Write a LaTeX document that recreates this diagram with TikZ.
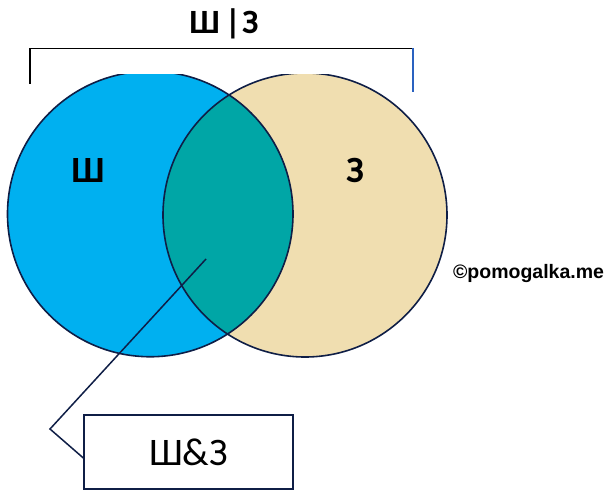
\documentclass[tikz,border=0pt]{standalone}
\usepackage{fontspec}
\setmainfont{Carlito}
\newfontfamily\wmfont{Liberation Sans}
\definecolor{cblue}{HTML}{00B0F0}
\definecolor{ctan}{HTML}{F0DEB0}
\definecolor{cteal}{HTML}{00A6A6}
\definecolor{cline}{HTML}{0F1E46}
\definecolor{cbr}{HTML}{2A62C0}
\begin{document}
\begin{tikzpicture}[x=1pt,y=-1pt,
  outline/.style={draw=cline,line width=1.6pt},
  setlabel/.style={font=\fontsize{37}{37}\selectfont\bfseries,anchor=base},
  boxnode/.style={draw=cline,line width=1.3pt,minimum width=209pt,minimum height=74pt,inner sep=0pt,font=\fontsize{39}{39}\selectfont},
  conn/.style={draw=cline,line width=1.5pt}]
\useasboundingbox (0,0) rectangle (611,497);
\coordinate (L) at (150.25,214);
\coordinate (R) at (305,215);
\begin{scope}
  \clip (0,74.3) rectangle (611,497);
  \fill[cblue] (L) circle (142.75pt);
  \fill[ctan] (R) circle (142pt);
  \begin{scope}
    \clip (L) circle (142.75pt);
    \fill[cteal] (R) circle (142pt);
  \end{scope}
  \draw[outline] (L) circle (142.75pt);
  \draw[outline] (R) circle (142pt);
\end{scope}
% bracket
\coordinate (b1) at (30,84);
\coordinate (b2) at (30,48.5);
\coordinate (b3) at (413,48.5);
\coordinate (b4) at (413,92);
\draw[line width=1.2pt,black] (b1) -- (b2) -- (b3);
\draw[line width=1.2pt,cbr] (b3) -- (b4);
\node[anchor=base,font=\fontsize{34}{34}\selectfont\bfseries] (title) at (224,34) {Ш\kern5pt|\kern1pt З};
\node[setlabel] (sh) at (88,183) {Ш};
\node[setlabel] (ze) at (355,183) {З};
\node[anchor=base,font=\wmfont\fontsize{19.5}{19.5}\selectfont\bfseries] (wm) at (528.5,279) {©pomogalka.me};
% callout
\node[boxnode] (box) at (188.5,452) {Ш\&З};
\coordinate (p) at (206,259);
\coordinate (k) at (50,429);
\draw[conn] (p) -- (k) -- ([yshift=-6pt]box.west);
\end{tikzpicture}
\end{document}
